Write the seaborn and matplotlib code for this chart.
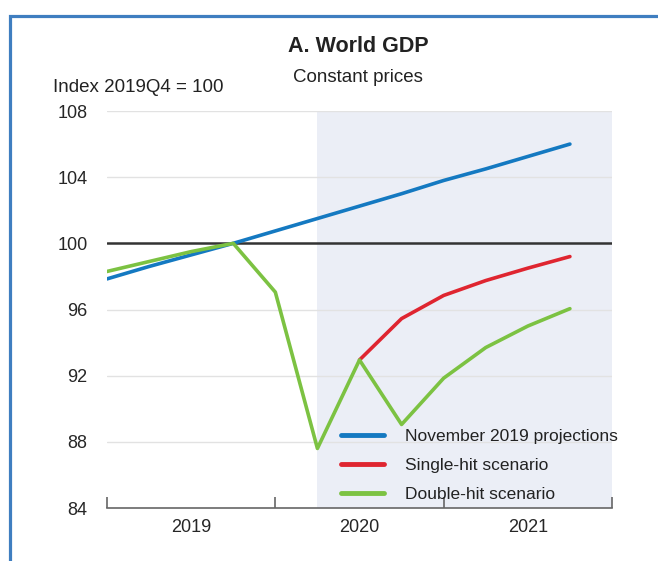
import numpy as np
import pandas as pd
import matplotlib
matplotlib.use('Agg')
import matplotlib.pyplot as plt
from matplotlib.patches import Rectangle
import seaborn as sns

# --------------------------
# DATA (index 2019Q4 = 100)
# --------------------------
quarters = ['2019Q1', '2019Q2', '2019Q3', '2019Q4',
            '2020Q1', '2020Q2', '2020Q3', '2020Q4',
            '2021Q1', '2021Q2', '2021Q3', '2021Q4']
years = ['2019', '2020', '2021']

november_2019 = [97.85, 98.6, 99.3, 100.0, 100.75, 101.5, 102.25, 103.0,
                 103.8, 104.5, 105.25, 106.0]
single_hit_quarters = quarters[6:]
single_hit = [92.95, 95.45, 96.85, 97.75, 98.5, 99.2]
double_hit = [98.3, 98.9, 99.5, 100.0, 97.05, 87.6, 92.95, 89.05,
              91.85, 93.7, 95.0, 96.05]

series_names = ['November 2019 projections', 'Single-hit scenario', 'Double-hit scenario']
colors = ['#1479C1', '#DF2530', '#7CC242']

# long-form table for seaborn
x_pos = {q: i for i, q in enumerate(quarters)}
df = pd.concat([
    pd.DataFrame({'quarter': quarters, 'value': november_2019, 'series': series_names[0]}),
    pd.DataFrame({'quarter': single_hit_quarters, 'value': single_hit, 'series': series_names[1]}),
    pd.DataFrame({'quarter': quarters, 'value': double_hit, 'series': series_names[2]}),
], ignore_index=True)
df['x'] = df['quarter'].map(x_pos)

# --------------------------
# STYLE
# --------------------------
sns.set_style('white')
plt.rcParams['font.family'] = ['Liberation Sans', 'DejaVu Sans']
plt.rcParams['text.color'] = '#222222'

fig = plt.figure(figsize=(6.58, 5.61), dpi=100)
ax = fig.add_axes([107 / 658, 1 - 508 / 561, (612 - 107) / 658, (508 - 111) / 561])

# projection period shading
ax.axvspan(5, 12, color='#EBEEF6', zorder=0, lw=0)

# grid + reference line
for yv in [88, 92, 96, 104, 108]:
    ax.axhline(yv, color='#E2E2E2', lw=1, zorder=1)
ax.axhline(100, color='#333333', lw=1.8, zorder=2)

sns.lineplot(data=df, x='x', y='value', hue='series', hue_order=series_names,
             palette=colors, linewidth=2.6, ax=ax, zorder=3, sort=False)

ax.set_xlim(0, 12)
ax.set_ylim(84, 108)
ax.set_yticks(np.arange(84, 109, 4))
ax.tick_params(axis='y', length=0, pad=14, labelsize=13)
ax.set_xlabel('')
ax.set_ylabel('')

# year boundaries as major ticks, year labels on minor ticks
ax.set_xticks([0, 4, 8, 12])
ax.set_xticklabels([])
ax.set_xticks([2, 6, 10], minor=True)
ax.set_xticklabels(years, minor=True)
ax.tick_params(axis='x', which='major', bottom=True, direction='in', length=8,
               width=1.2, color='#666666')
ax.tick_params(axis='x', which='minor', bottom=True, length=0, pad=8, labelsize=13)

for side in ['left', 'right', 'top']:
    ax.spines[side].set_visible(False)
ax.spines['bottom'].set_color('#666666')
ax.spines['bottom'].set_linewidth(1.2)

leg = ax.legend(loc='upper left', bbox_to_anchor=(0.45, 0.216), frameon=False,
                fontsize=12.5, handlelength=2.45, handletextpad=1.25, labelspacing=0.78,
                borderaxespad=0)
for line in leg.get_lines():
    line.set_linewidth(3.5)

# titles
fig.text(358 / 658, 1 - 47 / 561, 'A. World GDP', ha='center', va='center',
         fontsize=15.5, fontweight='bold')
fig.text(358 / 658, 1 - 77 / 561, 'Constant prices', ha='center', va='center', fontsize=13.5)
fig.text(53 / 658, 1 - 87 / 561, 'Index 2019Q4 = 100', ha='left', va='center', fontsize=13.5)

# outer frame (only left and top edges visible)
fig.patches.append(Rectangle((9.5 / 658, -0.1), 1.2, 1 - 15.5 / 561 + 0.1,
                             transform=fig.transFigure, fill=False,
                             edgecolor='#3F7EC0', lw=2.3, zorder=10))

plt.savefig('out.png', dpi=100)
plt.close(fig)
